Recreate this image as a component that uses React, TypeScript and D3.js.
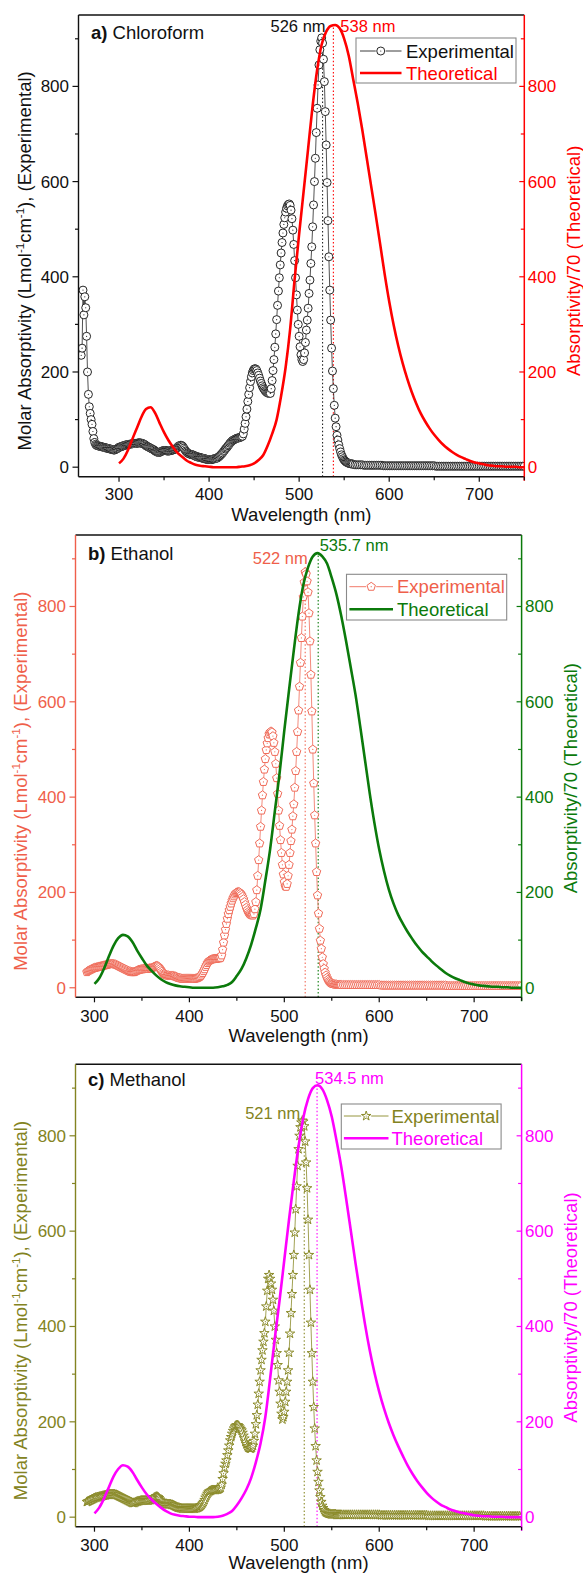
import React from "react";
import * as d3 from "d3";

const W = 583;
const H = 1574;
const FONT = "'Liberation Sans', Arial, Helvetica, sans-serif";

// ---------- DATA ----------
// Theoretical spectra (Absorptivity/70), sampled every 5 nm from 300 to 750 nm
const theoStart = 300;
const theoStep = 5;
const theoA = [
  8, 18, 36, 60, 83, 106, 122, 126, 114, 93,
  73, 56, 42, 30, 22, 14, 9, 5, 3, 2,
  1, 0, 0, 0, 0, 0, 0, 1, 2, 4,
  8, 15, 25, 45, 70, 100, 150, 210, 290, 395,
  490, 580, 670, 760, 835, 888, 915, 927, 929, 922,
  900, 865, 815, 765, 710, 650, 590, 530, 468, 405,
  348, 298, 255, 218, 186, 158, 134, 113, 96, 81,
  68, 57, 47, 39, 32, 26, 21, 17, 13, 10,
  8, 6, 4, 3, 2, 2, 1, 1, 1, 0,
  0,
];
const theoB = [
  8, 20, 40, 65, 88, 104, 111, 108, 96, 78,
  62, 47, 36, 26, 18, 12, 8, 5, 3, 2,
  1, 0, 0, 0, 0, 0, 1, 3, 6, 12,
  25, 40, 62, 90, 125, 165, 225, 290, 370, 450,
  540, 625, 708, 785, 845, 882, 905, 912, 905, 890,
  860, 825, 780, 728, 672, 615, 548, 478, 408, 345,
  290, 245, 207, 177, 153, 134, 117, 102, 88, 76,
  66, 56, 47, 39, 31, 25, 20, 16, 12, 9,
  7, 5, 4, 3, 2, 2, 1, 1, 0, 0,
  0,
];
const theoC = [
  8, 20, 39, 62, 85, 101, 109, 106, 95, 78,
  62, 48, 37, 28, 20, 13, 8, 5, 3, 2,
  1, 1, 0, 0, 0, 0, 1, 3, 7, 13,
  25, 40, 58, 82, 115, 155, 210, 290, 375, 455,
  540, 625, 705, 778, 838, 877, 900, 906, 898, 875,
  840, 790, 735, 670, 602, 533, 468, 405, 350, 303,
  263, 228, 198, 172, 149, 128, 108, 91, 76, 63,
  51, 41, 33, 26, 21, 16, 13, 10, 8, 6,
  4, 3, 2, 2, 1, 1, 1, 0, 0, 0,
  0,
];

// Experimental molar absorptivity: 1 nm steps up to 560 nm ...
const expAStart = 258;
const expA = [
  235, 250, 372, 320, 358, 335, 275, 200, 153, 127,
  113, 100, 90, 75, 60, 52, 48, 46, 45, 45,
  44, 44, 43, 43, 42, 42, 41, 41, 40, 40,
  39, 39, 38, 38, 37, 37, 36, 36, 37, 38,
  39, 40, 42, 42, 43, 44, 44, 45, 46, 46,
  47, 47, 48, 48, 48, 49, 49, 49, 50, 50,
  50, 50, 50, 51, 51, 51, 51, 50, 50, 49,
  48, 47, 45, 44, 43, 42, 41, 40, 39, 38,
  37, 36, 34, 33, 32, 31, 31, 31, 32, 33,
  34, 35, 35, 35, 35, 34, 34, 34, 34, 35,
  35, 36, 36, 37, 38, 39, 40, 42, 44, 45,
  46, 46, 45, 43, 40, 37, 34, 32, 30, 29,
  28, 27, 27, 26, 26, 25, 24, 23, 22, 22,
  21, 21, 20, 20, 19, 19, 18, 18, 17, 17,
  16, 16, 16, 16, 16, 16, 17, 17, 18, 18,
  19, 19, 21, 22, 24, 26, 28, 30, 33, 35,
  38, 40, 42, 45, 47, 50, 52, 54, 56, 57,
  58, 59, 60, 61, 61, 62, 62, 63, 64, 65,
  70, 80, 92, 106, 122, 138, 153, 167, 180, 190,
  198, 203, 206, 207, 206, 203, 198, 193, 187, 181,
  176, 171, 167, 164, 161, 159, 157, 156, 155, 155,
  155, 165, 182, 203, 226, 252, 280, 310, 340, 370,
  398, 425, 450, 472, 492, 510, 524, 536, 544, 549,
  552, 553, 550, 540, 522, 498, 468, 434, 398, 362,
  330, 300, 275, 253, 236, 226, 222, 226, 240, 262,
  288, 309, 334, 365, 393, 428, 463, 505, 551, 600,
  649, 703, 754, 803, 845, 877, 895, 902, 891, 857,
  810, 747, 677, 598, 518, 442, 372, 309, 250, 202,
  165, 130, 103, 85, 67, 57, 47, 39, 32, 26,
  22, 18, 15, 13, 11, 10, 9, 8, 8, 7,
  7, 7, 6,
];
const expBStart = 292;
const expB = [
  33, 35, 36, 37, 38, 39, 40, 41, 42, 42,
  43, 43, 44, 44, 45, 45, 46, 46, 47, 47,
  48, 48, 49, 49, 50, 50, 50, 50, 50, 49,
  49, 48, 47, 46, 45, 44, 43, 42, 41, 40,
  39, 38, 37, 36, 35, 34, 34, 33, 33, 33,
  33, 34, 35, 36, 37, 38, 38, 39, 39, 39,
  40, 40, 40, 40, 40, 40, 41, 41, 41, 42,
  43, 44, 45, 46, 46, 45, 43, 40, 37, 34,
  31, 29, 28, 27, 26, 26, 26, 25, 25, 25,
  25, 25, 24, 24, 23, 22, 21, 21, 20, 20,
  19, 19, 19, 19, 19, 19, 19, 19, 19, 19,
  19, 19, 19, 19, 19, 20, 20, 21, 22, 23,
  25, 28, 31, 35, 39, 44, 48, 52, 55, 57,
  58, 59, 60, 60, 61, 61, 61, 61, 62, 62,
  62, 63, 68, 80, 95, 110, 122, 134, 145, 155,
  163, 170, 177, 183, 188, 192, 196, 199, 200, 201,
  201, 200, 198, 195, 191, 186, 180, 174, 168, 163,
  159, 156, 154, 153, 152, 152, 155, 165, 180, 205,
  235, 268, 303, 338, 372, 404, 432, 458, 480, 499,
  513, 524, 532, 536, 538, 536, 528, 514, 495, 470,
  440, 407, 372, 340, 310, 283, 258, 238, 222, 213,
  212, 218, 235, 258, 283, 308, 332, 360, 385, 420,
  455, 495, 537, 582, 632, 682, 734, 779, 820, 851,
  872, 868, 853, 830, 786, 727, 657, 580, 500, 429,
  362, 303, 243, 194, 156, 124, 99, 82, 64, 50,
  40, 32, 26, 21, 17, 14, 12, 10, 9, 8,
  8, 7, 7, 7, 6, 6, 6, 6, 6,
];
const expCStart = 292;
const expC = [
  32, 33, 34, 35, 36, 37, 38, 39, 40, 41,
  41, 42, 42, 43, 43, 44, 44, 45, 45, 46,
  46, 47, 47, 47, 48, 48, 48, 48, 48, 48,
  47, 47, 46, 45, 44, 43, 42, 41, 40, 39,
  38, 37, 36, 35, 34, 33, 32, 31, 30, 30,
  30, 31, 32, 33, 33, 34, 34, 35, 35, 35,
  35, 35, 35, 35, 35, 35, 36, 36, 37, 38,
  39, 41, 42, 43, 43, 42, 40, 37, 34, 32,
  30, 29, 28, 28, 28, 27, 27, 27, 27, 26,
  26, 25, 24, 23, 22, 21, 20, 20, 19, 19,
  18, 18, 18, 18, 18, 18, 18, 18, 18, 18,
  18, 18, 18, 18, 18, 19, 19, 20, 21, 22,
  24, 26, 29, 32, 36, 41, 45, 49, 52, 54,
  55, 56, 57, 57, 57, 57, 57, 58, 58, 59,
  60, 62, 68, 80, 92, 104, 112, 119, 130, 140,
  150, 161, 168, 175, 181, 186, 190, 192, 193, 193,
  191, 188, 185, 182, 177, 171, 165, 158, 153, 149,
  146, 145, 144, 144, 146, 150, 160, 175, 195, 214,
  236, 259, 284, 308, 330, 350, 368, 386, 410, 442,
  475, 500, 508, 500, 490, 477, 456, 433, 400, 372,
  344, 319, 287, 263, 238, 217, 205, 210, 221, 242,
  263, 284, 308, 345, 385, 428, 468, 508, 550, 597,
  646, 694, 737, 772, 800, 818, 828, 832, 830, 820,
  788, 744, 690, 624, 550, 477, 408, 344, 284, 231,
  186, 149, 119, 95, 74, 56, 42, 32, 24, 19,
  15, 12, 10, 9, 8, 7, 7, 6, 6, 6,
  6, 6, 6, 5, 5, 5, 5, 5, 5,
];
// ... then 2 nm steps over the flat tail 562–750 nm
const tailStart = 562;
const tailStep = 2;
const expATail = [
  5, 5, 5, 5, 5, 4, 4, 4, 4, 4,
  4, 4, 4, 4, 4, 4, 3, 3, 3, 3,
  3, 3, 3, 3, 3, 3, 3, 3, 3, 3,
  3, 3, 3, 3, 3, 3, 3, 3, 3, 3,
  3, 3, 3, 3, 3, 2, 2, 2, 2, 2,
  2, 2, 2, 2, 2, 2, 2, 2, 2, 2,
  2, 2, 2, 2, 2, 2, 2, 2, 2, 2,
  2, 2, 2, 2, 2, 2, 2, 2, 2, 2,
  2, 2, 2, 2, 2, 2, 2, 2, 2, 2,
  2, 2, 2, 2, 2,
];
const expBTail = [
  6, 6, 6, 6, 6, 6, 6, 6, 6, 6,
  6, 6, 6, 6, 6, 6, 6, 6, 6, 6,
  5, 5, 5, 5, 5, 5, 5, 5, 5, 5,
  5, 5, 5, 5, 5, 5, 5, 5, 5, 5,
  5, 5, 5, 5, 5, 5, 5, 5, 5, 5,
  5, 5, 5, 5, 5, 4, 4, 4, 4, 4,
  4, 4, 4, 4, 4, 4, 4, 4, 4, 4,
  4, 4, 4, 4, 4, 4, 4, 4, 4, 4,
  4, 4, 4, 4, 4, 4, 4, 4, 4, 4,
  4, 4, 4, 4, 4,
];
const expCTail = [
  5, 5, 5, 5, 5, 5, 5, 5, 5, 5,
  5, 5, 5, 5, 5, 5, 5, 5, 5, 5,
  4, 4, 4, 4, 4, 4, 4, 4, 4, 4,
  4, 4, 4, 4, 4, 4, 4, 4, 4, 4,
  4, 4, 4, 4, 4, 3, 3, 3, 3, 3,
  3, 3, 3, 3, 3, 3, 3, 3, 3, 3,
  3, 3, 3, 3, 3, 3, 3, 3, 3, 3,
  3, 3, 3, 3, 3, 2, 2, 2, 2, 2,
  2, 2, 2, 2, 2, 2, 2, 2, 2, 2,
  2, 2, 2, 2, 2,
];

// Ticks
const xMajor = [300, 400, 500, 600, 700];
const xMinor = [350, 450, 550, 650, 750];
const yMajor = [0, 200, 400, 600, 800];
const yMinor = [100, 300, 500, 700, 900];
const yDomain = [-20, 950];

// Peak annotations [wavelength (nm), top of dotted line]
const peaksA = { exp: [526, 912], theo: [538, 929], expLabel: "526 nm", theoLabel: "538 nm" };
const peaksB = { exp: [522, 883], theo: [535.7, 912], expLabel: "522 nm", theoLabel: "535.7 nm" };
const peaksC = { exp: [521, 830], theo: [534.5, 906], expLabel: "521 nm", theoLabel: "534.5 nm" };

const panels = [
  {
    key: "a", letter: "a)", solvent: "Chloroform",
    expStart: expAStart, exp: expA, tail: expATail, theo: theoA, peaks: peaksA,
    xDomain: [255, 750], left: 78.5, right: 524.3, top: 15, bottom: 476.7,
    expColor: "#262626", expTextColor: "#111", leftColor: "#111", theoColor: "#ff0000",
    marker: "circle",
    titleY: 38.5, expLabelY: 32, theoLabelY: 32, expLabelDx: 3, theoLabelDx: 7,
    legend: { x0: 356, x1: 516, y0: 38, y1: 83, r1: 51, r2: 73, s0: 360, s1: 401.5, tx: 406 },
    xLabelY: 499.5, xTitleY: 520.5, yTitleX: 24, rTitleX: 573, yTitleDy: 15, rTitleDy: 15,
  },
  {
    key: "b", letter: "b)", solvent: "Ethanol",
    expStart: expBStart, exp: expB, tail: expBTail, theo: theoB, peaks: peaksB,
    xDomain: [280, 750], left: 75.5, right: 521.6, top: 535, bottom: 997.3,
    expColor: "#f06c5a", expTextColor: "#ef5f4b", leftColor: "#ef5f4b", theoColor: "#0b7a0b",
    marker: "pentagon",
    titleY: 559.8, expLabelY: 563.7, theoLabelY: 551, expLabelDx: 2.6, theoLabelDx: 1.5,
    legend: { x0: 346.5, x1: 506.7, y0: 574.3, y1: 620, r1: 586.7, r2: 609.3, s0: 349.4, s1: 393, tx: 397 },
    xLabelY: 1022, xTitleY: 1042, yTitleX: 20, rTitleX: 570, yTitleDy: 15, rTitleDy: 12,
  },
  {
    key: "c", letter: "c)", solvent: "Methanol",
    expStart: expCStart, exp: expC, tail: expCTail, theo: theoC, peaks: peaksC,
    xDomain: [280, 750], left: 75.5, right: 521.6, top: 1064.3, bottom: 1526.7,
    expColor: "#8a8a28", expTextColor: "#838322", leftColor: "#838322", theoColor: "#ff00ff",
    marker: "star",
    titleY: 1085.5, expLabelY: 1118.7, theoLabelY: 1083.7, expLabelDx: -4, theoLabelDx: -2,
    legend: { x0: 341.3, x1: 501.1, y0: 1104, y1: 1149, r1: 1116, r2: 1138.3, s0: 343.9, s1: 388.5, tx: 391.5 },
    xLabelY: 1551, xTitleY: 1569, yTitleX: 20, rTitleX: 570, yTitleDy: 15, rTitleDy: 12,
  },
];

// ---------- HELPERS ----------
function buildExp(start: number, vals: number[], tail: number[]): [number, number][] {
  const pts: [number, number][] = vals.map((v, i) => [start + i, v]);
  tail.forEach((v, i) => pts.push([tailStart + i * tailStep, v]));
  return pts;
}

const pentagonD = (() => {
  const r = 4.4;
  const pts = d3.range(5).map((k) => {
    const a = -Math.PI / 2 + (k * 2 * Math.PI) / 5;
    return [r * Math.cos(a), r * Math.sin(a)];
  });
  return "M" + pts.map((p) => p[0].toFixed(2) + "," + p[1].toFixed(2)).join("L") + "Z";
})();
const starD = d3.symbol(d3.symbolStar, (5 * 5) / 0.8908130915292852)() as string;

function Marker({ type, x, y, color }: { type: string; x: number; y: number; color: string }) {
  if (type === "circle") {
    return (
      <g transform={`translate(${x},${y})`}>
        <circle r={4} fill="#fff" stroke={color} strokeWidth={1} />
        <circle r={0.6} fill={color} />
      </g>
    );
  }
  const d = type === "pentagon" ? pentagonD : starD;
  return (
    <g transform={`translate(${x},${y})`}>
      <path d={d} fill="#fff" stroke={color} strokeWidth={1} strokeLinejoin="miter" />
      <circle r={0.6} fill={color} />
    </g>
  );
}

function Panel({ p }: { p: any }) {
  const x = d3.scaleLinear().domain(p.xDomain).range([p.left, p.right]);
  const y = d3.scaleLinear().domain(yDomain).range([p.bottom, p.top]);
  const expPts = buildExp(p.expStart, p.exp, p.tail);
  const theoPts: [number, number][] = p.theo.map((v: number, i: number) => [theoStart + i * theoStep, v]);
  const expLine = d3.line<[number, number]>().x((d) => x(d[0])).y((d) => y(d[1]));
  const theoLine = d3
    .line<[number, number]>()
    .x((d) => x(d[0]))
    .y((d) => y(d[1]))
    .curve(d3.curveMonotoneX);
  const clipId = "clip-" + p.key;
  const midY = (p.top + p.bottom) / 2;
  const L = p.legend;
  const sMid = (L.s0 + L.s1) / 2;

  return (
    <g>
      <defs>
        <clipPath id={clipId}>
          <rect x={p.left} y={p.top} width={p.right - p.left} height={p.bottom - p.top} />
        </clipPath>
      </defs>

      {/* dotted peak lines */}
      <line
        x1={x(p.peaks.exp[0])} x2={x(p.peaks.exp[0])} y1={p.bottom} y2={y(p.peaks.exp[1])}
        stroke={p.expColor} strokeWidth={1.1} strokeDasharray="1.5,2.2"
      />
      <line
        x1={x(p.peaks.theo[0])} x2={x(p.peaks.theo[0])} y1={p.bottom} y2={y(p.peaks.theo[1])}
        stroke={p.theoColor} strokeWidth={1.1} strokeDasharray="1.5,2.2"
      />

      <g clipPath={`url(#${clipId})`}>
        <path d={expLine(expPts) as string} fill="none" stroke={p.expColor} strokeWidth={0.8} />
        {expPts.map((d, i) => (
          <Marker key={i} type={p.marker} x={x(d[0])} y={y(d[1])} color={p.expColor} />
        ))}
        <path d={theoLine(theoPts) as string} fill="none" stroke={p.theoColor} strokeWidth={2.6} strokeLinejoin="round" />
      </g>

      {/* frame & axes */}
      <line x1={p.left} x2={p.right} y1={p.top} y2={p.top} stroke="#111" strokeWidth={1.4} />
      <line x1={p.left} x2={p.right} y1={p.bottom} y2={p.bottom} stroke="#111" strokeWidth={1.4} />
      <line x1={p.left} x2={p.left} y1={p.top} y2={p.bottom} stroke={p.leftColor} strokeWidth={1.4} />
      <line x1={p.right} x2={p.right} y1={p.top} y2={p.bottom + 4} stroke={p.theoColor} strokeWidth={1.5} />

      {/* x ticks */}
      {xMajor.filter((t) => t >= p.xDomain[0] && t <= p.xDomain[1]).map((t) => (
        <g key={"xM" + t}>
          <line x1={x(t)} x2={x(t)} y1={p.bottom} y2={p.bottom + 5} stroke="#111" strokeWidth={1.2} />
          <text x={x(t)} y={p.xLabelY} textAnchor="middle" fontSize={17} fill="#111">{t}</text>
        </g>
      ))}
      {xMinor.filter((t) => t >= p.xDomain[0] && t <= p.xDomain[1]).map((t) => (
        <line key={"xm" + t} x1={x(t)} x2={x(t)} y1={p.bottom} y2={p.bottom + 3.5} stroke="#111" strokeWidth={1.2} />
      ))}
      <text x={(p.left + p.right) / 2} y={p.xTitleY} textAnchor="middle" fontSize={18.5} fill="#111">
        Wavelength (nm)
      </text>

      {/* left y ticks */}
      {yMajor.map((t) => (
        <g key={"yM" + t}>
          <line x1={p.left - 6} x2={p.left} y1={y(t)} y2={y(t)} stroke={p.leftColor} strokeWidth={1.2} />
          <text x={p.left - 9.5} y={y(t) + 6} textAnchor="end" fontSize={17} fill={p.leftColor}>{t}</text>
        </g>
      ))}
      {yMinor.map((t) => (
        <line key={"ym" + t} x1={p.left - 3.5} x2={p.left} y1={y(t)} y2={y(t)} stroke={p.leftColor} strokeWidth={1.2} />
      ))}

      {/* right y ticks */}
      {yMajor.map((t) => (
        <g key={"rM" + t}>
          <line x1={p.right - 5} x2={p.right} y1={y(t)} y2={y(t)} stroke={p.theoColor} strokeWidth={1.2} />
          <text x={p.right + 3.5} y={y(t) + 6} textAnchor="start" fontSize={17} fill={p.theoColor}>{t}</text>
        </g>
      ))}
      {yMinor.map((t) => (
        <line key={"rm" + t} x1={p.right - 3.5} x2={p.right} y1={y(t)} y2={y(t)} stroke={p.theoColor} strokeWidth={1.2} />
      ))}

      {/* axis titles */}
      <text
        transform={`translate(${p.yTitleX + 6.5},${midY + p.yTitleDy}) rotate(-90)`}
        textAnchor="middle" fontSize={18.5} fill={p.leftColor}
      >
        Molar Absorptivity (Lmol
        <tspan dy={-7} fontSize={11.5}>-1</tspan>
        <tspan dy={7}>cm</tspan>
        <tspan dy={-7} fontSize={11.5}>-1</tspan>
        <tspan dy={7}>), (Experimental)</tspan>
      </text>
      <text
        transform={`translate(${p.rTitleX + 6.5},${midY + p.rTitleDy}) rotate(-90)`}
        textAnchor="middle" fontSize={18.5} fill={p.theoColor}
      >
        Absorptivity/70 (Theoretical)
      </text>

      {/* panel title */}
      <text x={p.left + 12.5} y={p.titleY} fontSize={18.5} fill="#111">
        <tspan fontWeight="bold">{p.letter}</tspan> {p.solvent}
      </text>

      {/* peak labels */}
      <text x={x(p.peaks.exp[0]) + p.expLabelDx} y={p.expLabelY} textAnchor="end" fontSize={16.5} fill={p.expTextColor}>
        {p.peaks.expLabel}
      </text>
      <text x={x(p.peaks.theo[0]) + p.theoLabelDx} y={p.theoLabelY} textAnchor="start" fontSize={16.5} fill={p.theoColor}>
        {p.peaks.theoLabel}
      </text>

      {/* legend */}
      <rect x={L.x0} y={L.y0} width={L.x1 - L.x0} height={L.y1 - L.y0} fill="#fff" stroke="#8a8a8a" strokeWidth={1.1} />
      <line x1={L.s0} x2={sMid - 5} y1={L.r1} y2={L.r1} stroke={p.expColor} strokeWidth={0.9} />
      <line x1={sMid + 5} x2={L.s1} y1={L.r1} y2={L.r1} stroke={p.expColor} strokeWidth={0.9} />
      <Marker type={p.marker} x={sMid} y={L.r1} color={p.expColor} />
      <text x={L.tx} y={L.r1 + 6.5} fontSize={18.5} fill={p.expTextColor}>Experimental</text>
      <line x1={L.s0} x2={L.s1} y1={L.r2} y2={L.r2} stroke={p.theoColor} strokeWidth={2.6} />
      <text x={L.tx} y={L.r2 + 6.5} fontSize={18.5} fill={p.theoColor}>Theoretical</text>
    </g>
  );
}

export default function App() {
  return (
    <svg
      width={W}
      height={H}
      viewBox={`0 0 ${W} ${H}`}
      style={{ position: "absolute", left: 0, top: 0, background: "#fff" }}
      fontFamily={FONT}
    >
      <rect width={W} height={H} fill="#fff" />
      {panels.map((p) => (
        <Panel key={p.key} p={p} />
      ))}
    </svg>
  );
}
